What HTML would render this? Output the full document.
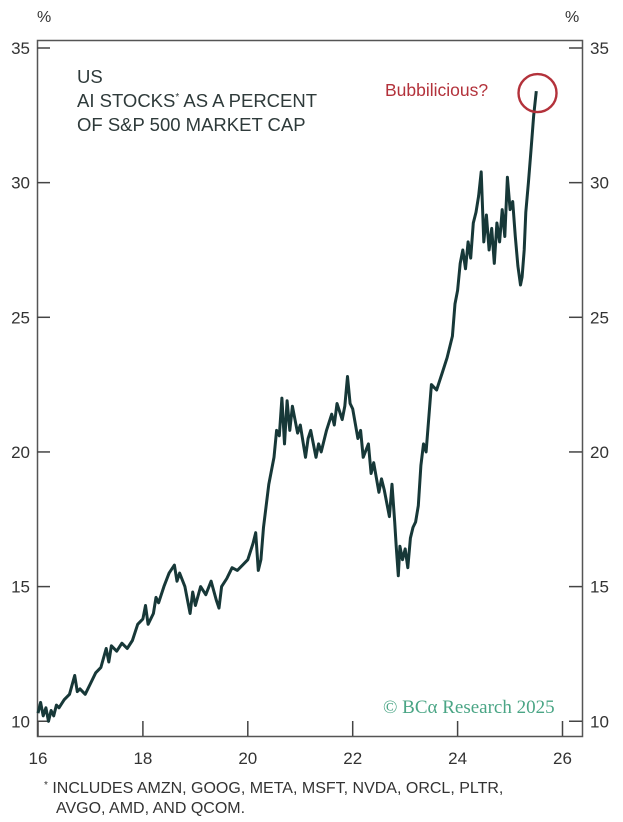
<!DOCTYPE html>
<html><head><meta charset="utf-8"><style>
body{margin:0;background:#fff;}
svg{display:block;font-family:"Liberation Sans",sans-serif;}
</style></head><body>
<svg id="chart" width="623" height="822" viewBox="0 0 623 822" xmlns="http://www.w3.org/2000/svg">
<rect width="623" height="822" fill="#fff"/>
<text x="37" y="22" font-size="16" fill="#333">%</text>
<text x="565" y="22" font-size="16" fill="#333">%</text>
<rect x="37.5" y="40.5" width="545" height="696" fill="none" stroke="#555" stroke-width="1.5"/>
<g id="axes"></g>
<g font-size="18.5" fill="#2e3a3a">
<text x="77" y="83">US</text>
<text x="77" y="107">AI STOCKS<tspan font-size="10" dy="-7">*</tspan><tspan dy="7"> AS A PERCENT</tspan></text>
<text x="77" y="131">OF S&amp;P 500 MARKET CAP</text>
</g>
<path id="line" fill="none" stroke="#173838" stroke-width="3" stroke-linejoin="round"/>
<circle id="circ" r="19" fill="none" stroke="#b3323b" stroke-width="2.4"/>
<text x="385" y="96" font-size="17.5" fill="#b3323b">Bubbilicious?</text>
<text x="383" y="713" font-size="19" fill="#4aa585" font-family="'Liberation Serif',serif">© BCα Research 2025</text>
<g font-size="16" fill="#333">
<text x="44" y="793"><tspan font-size="10" dy="-5">*</tspan><tspan dy="5"> INCLUDES AMZN, GOOG, META, MSFT, NVDA, ORCL, PLTR,</tspan></text>
<text x="56" y="813">AVGO, AMD, AND QCOM.</text>
</g>
</svg>
<script>
const yTicks=[10,15,20,25,30,35];
const xTicks=[16,18,20,22,24,26];
const dates=[16.0,16.05,16.1,16.15,16.2,16.25,16.3,16.35,16.4,16.5,16.6,16.7,16.75,16.8,16.9,17.0,17.1,17.2,17.3,17.35,17.4,17.5,17.6,17.7,17.8,17.9,18.0,18.05,18.1,18.2,18.25,18.3,18.4,18.5,18.6,18.65,18.7,18.8,18.85,18.9,18.95,19.0,19.1,19.2,19.3,19.4,19.45,19.5,19.6,19.7,19.8,19.9,20.0,20.1,20.15,20.2,20.25,20.3,20.4,20.5,20.55,20.6,20.65,20.7,20.75,20.8,20.85,20.9,20.95,21.0,21.1,21.15,21.2,21.3,21.35,21.4,21.5,21.6,21.65,21.7,21.8,21.85,21.9,21.95,22.0,22.1,22.15,22.2,22.3,22.35,22.4,22.5,22.55,22.6,22.7,22.75,22.8,22.83,22.87,22.9,22.95,23.0,23.05,23.1,23.15,23.2,23.25,23.3,23.35,23.4,23.5,23.6,23.7,23.8,23.9,23.95,24.0,24.05,24.1,24.15,24.2,24.25,24.3,24.35,24.4,24.45,24.5,24.55,24.6,24.65,24.7,24.75,24.8,24.85,24.9,24.95,25.0,25.05,25.1,25.15,25.2,25.23,25.27,25.3,25.35,25.4,25.45,25.5,25.55,25.6];
const values=[10.3,10.7,10.2,10.5,10.0,10.4,10.2,10.6,10.5,10.8,11.0,11.7,11.1,11.2,11.0,11.4,11.8,12.0,12.7,12.2,12.8,12.6,12.9,12.7,13.0,13.6,13.8,14.3,13.6,14.0,14.6,14.4,15.0,15.5,15.8,15.2,15.5,15.0,14.5,14.0,14.8,14.3,15.0,14.7,15.2,14.5,14.2,15.0,15.3,15.7,15.6,15.8,16.0,16.6,17.0,15.6,16.0,17.2,18.8,19.8,20.8,20.6,22.0,20.3,21.9,20.8,21.7,21.2,20.7,21.0,19.8,20.5,20.8,19.8,20.3,20.0,20.8,21.4,21.0,21.8,21.2,21.7,22.8,21.8,21.6,20.5,20.8,19.8,20.3,19.2,19.6,18.5,19.0,18.6,17.6,18.8,17.4,16.5,15.4,16.5,16.0,16.4,15.7,16.8,17.2,17.4,18.0,19.5,20.3,20.0,22.5,22.3,22.9,23.5,24.3,25.5,26.0,27.0,27.5,26.8,27.8,27.2,28.5,28.9,29.5,30.4,27.8,28.8,27.5,28.3,27.0,28.5,27.8,29.0,28.0,30.2,29.0,29.3,28.0,26.9,26.2,26.5,27.5,28.9,30.0,31.2,32.5,33.4];
const L=37,R=582,T=40,B=736;
const xs=d=>38+(d-16)*52.45;
const ys=v=>48+(35-v)*26.93;
const NS="http://www.w3.org/2000/svg";
const ax=document.getElementById('axes');
function mk(tag,attrs){const e=document.createElementNS(NS,tag);for(const k in attrs)e.setAttribute(k,attrs[k]);ax.appendChild(e);return e;}
yTicks.forEach(v=>{
  const y=ys(v);
  const t1=mk('line',{x1:L,x2:L+13,y1:y,y2:y,stroke:'#444','stroke-width':1.5});
  
  
  const t2=mk('line',{x1:R-13,x2:R,y1:y,y2:y,stroke:'#444','stroke-width':1.5});
  
  
  const l1=mk('text',{x:30,y:y+6,'text-anchor':'end','font-size':17,fill:'#333'});l1.textContent=v;
  
  
  const l2=mk('text',{x:590,y:y+6,'font-size':17,fill:'#333'});l2.textContent=v;
  
  
});
xTicks.forEach(d=>{
  const x=xs(d);
  const t=mk('line',{x1:x,x2:x,y1:B-15,y2:B,stroke:'#444','stroke-width':1.5});
  
  
  const l=mk('text',{x:x,y:764,'text-anchor':'middle','font-size':17,fill:'#333'});l.textContent=d;
  
  
});
let p='';dates.forEach((d,i)=>{p+=(i?'L':'M')+xs(d).toFixed(1)+' '+ys(values[i]).toFixed(1);});
document.getElementById('line').setAttribute('d',p);
const c=document.getElementById('circ');
c.setAttribute('cx',xs(dates[dates.length-1])-4);
c.setAttribute('cy',ys(values[values.length-1])+2);
</script>
</body></html>
